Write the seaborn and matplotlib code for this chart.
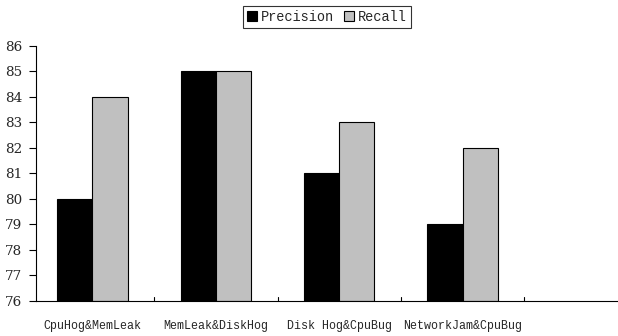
import matplotlib
matplotlib.use("Agg")
import matplotlib.pyplot as plt
import seaborn as sns
import pandas as pd
from matplotlib.patches import Patch

categories = ["CpuHog&MemLeak", "MemLeak&DiskHog", "Disk Hog&CpuBug", "NetworkJam&CpuBug"]
precision = [80, 85, 81, 79]
recall = [84, 85, 83, 82]
series = ["Precision", "Recall"]
yticks = [76, 77, 78, 79, 80, 81, 82, 83, 84, 85, 86]

df = pd.DataFrame({
    "case": categories * 2,
    "metric": [series[0]] * len(categories) + [series[1]] * len(categories),
    "value": precision + recall,
})

sns.set_style("white")
plt.rcParams["font.family"] = ["Liberation Mono", "DejaVu Sans Mono"]

fig = plt.figure(figsize=(6.18, 3.36), dpi=100)
ax = fig.add_axes([36 / 618, 35.5 / 336, 1 - 36 / 618, 255 / 336])

colors = {"Precision": "#000000", "Recall": "#c0c0c0"}
sns.barplot(data=df, x="case", y="value", hue="metric", palette=colors,
            width=0.57, edgecolor="#000000", linewidth=0.8, ax=ax,
            legend=False, errorbar=None)
# bars start at the axis floor
for p in ax.patches:
    h = p.get_height()
    p.set_y(76)
    p.set_height(h - 76)

ax.set_ylim(76, 86)
ax.set_xlim(-0.458, 4.26)
ax.set_yticks(yticks)
ax.set_yticklabels([str(t) for t in yticks], fontfamily="DejaVu Serif", fontsize=9.7)
ax.tick_params(axis="y", direction="out", length=5, width=0.8, color="#000000", pad=5,
               left=True)

ax.set_xticks(range(len(categories)))
ax.set_xticklabels(categories, fontsize=8.4)
ax.tick_params(axis="x", length=0, pad=14)
# category separators on the baseline
for b in [0.5, 1.5, 2.5, 3.5]:
    ax.plot([b, b], [76, 76.12], color="#000000", lw=0.8, clip_on=False)

ax.set_xlabel("")
ax.set_ylabel("")
for s in ["top", "right"]:
    ax.spines[s].set_visible(False)
for s in ["left", "bottom"]:
    ax.spines[s].set_color("#000000")
    ax.spines[s].set_linewidth(0.8)

handles = [Patch(facecolor=colors[s], edgecolor="#000000", linewidth=0.8, label=s) for s in series]
leg = fig.legend(handles=handles, loc="upper center", bbox_to_anchor=(327 / 618, 1 - 6 / 336),
                 ncol=2, frameon=True, fancybox=False, fontsize=9.8,
                 handlelength=0.75, handleheight=0.75, handletextpad=0.3, columnspacing=0.7,
                 borderpad=0.3, borderaxespad=0)
leg.get_frame().set_edgecolor("#000000")
leg.get_frame().set_linewidth(0.8)

fig.savefig("out.png", dpi=100)
